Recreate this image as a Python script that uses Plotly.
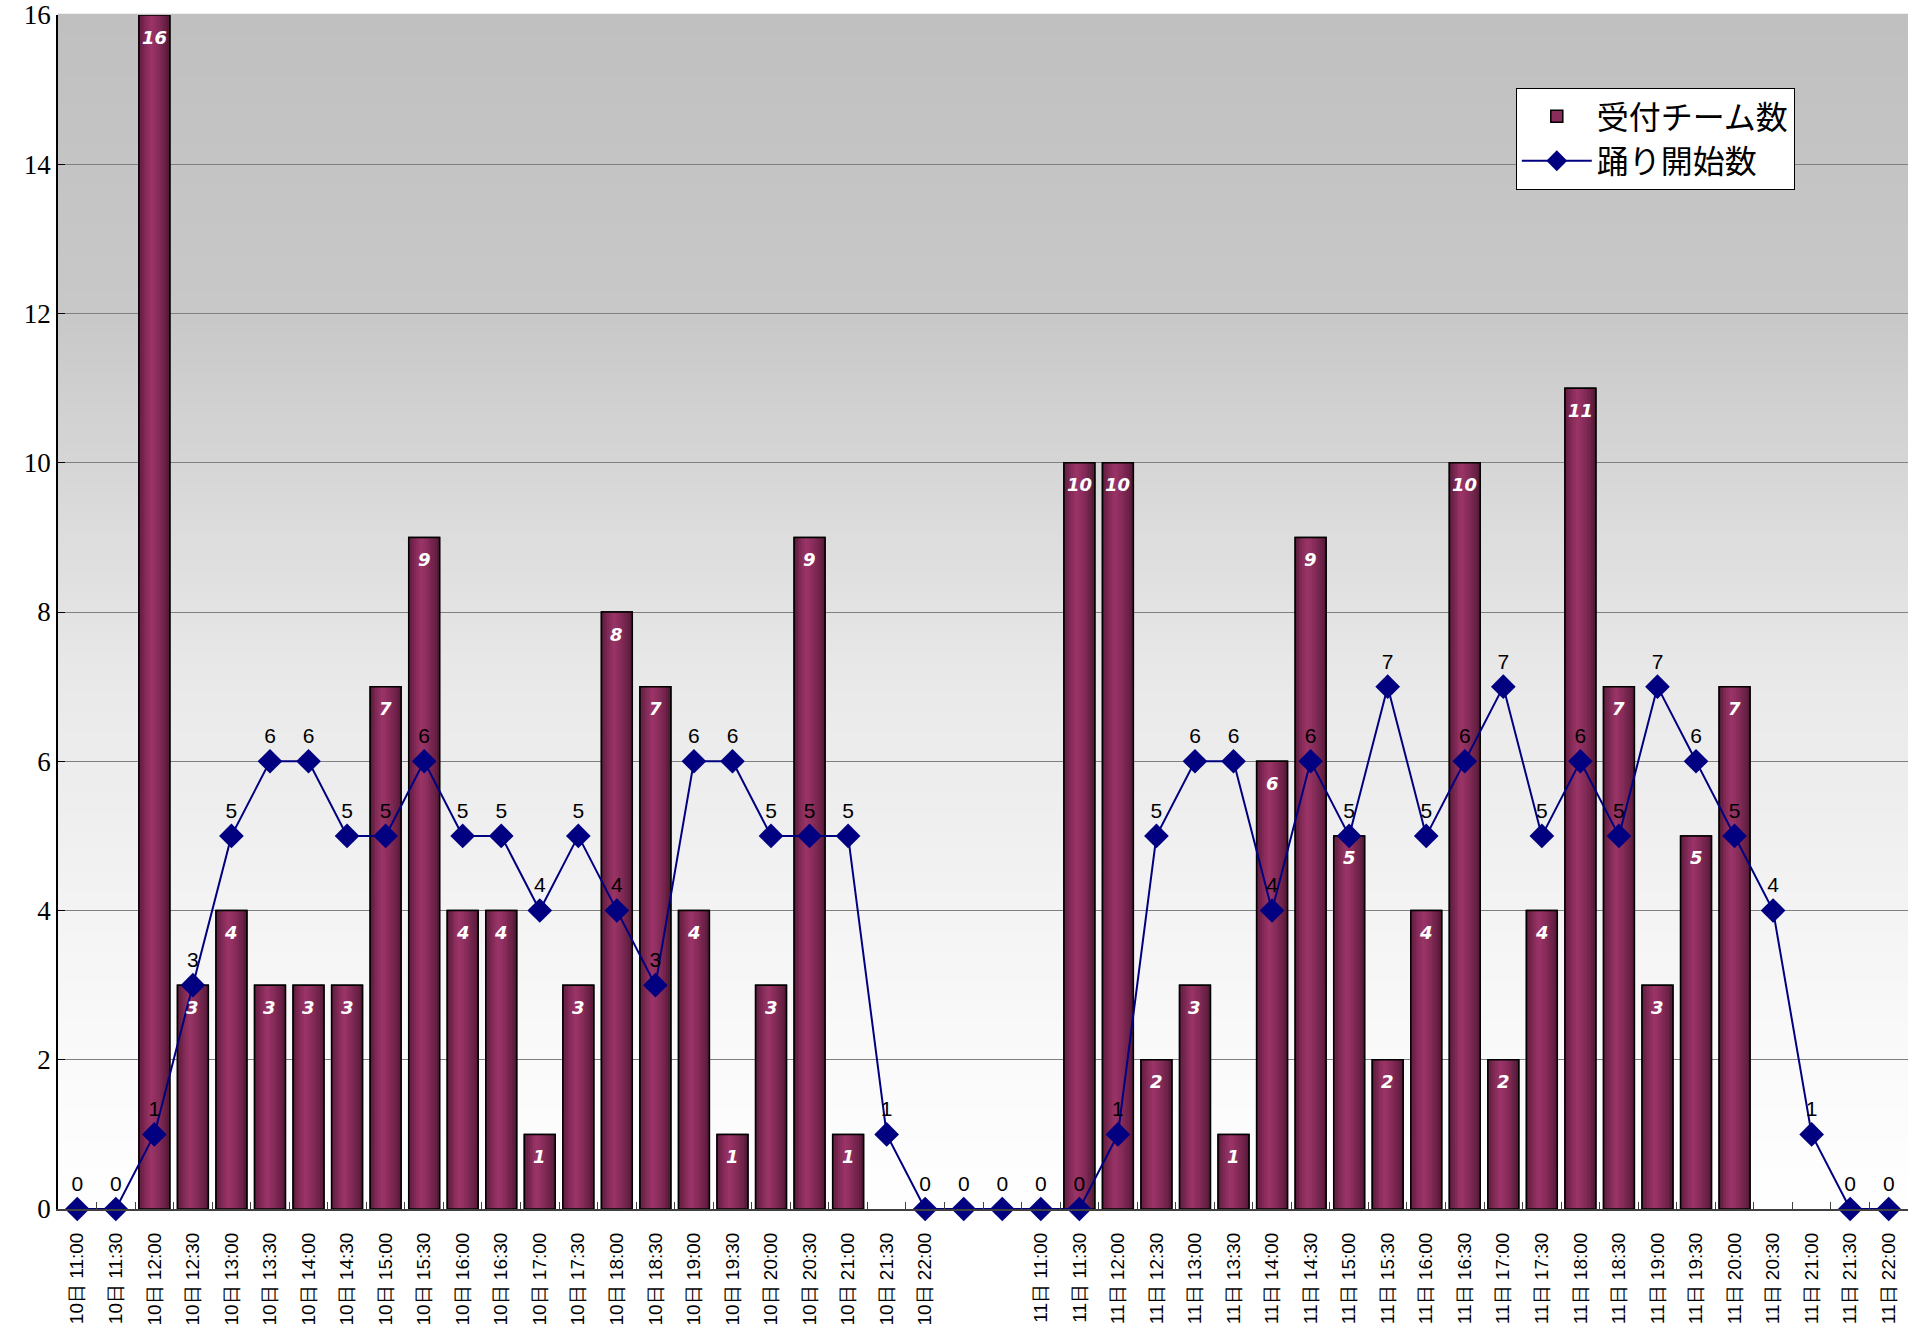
import plotly.graph_objects as go

categories = [
    "10日 11:00", "10日 11:30", "10日 12:00", "10日 12:30", "10日 13:00", "10日 13:30",
    "10日 14:00", "10日 14:30", "10日 15:00", "10日 15:30", "10日 16:00", "10日 16:30",
    "10日 17:00", "10日 17:30", "10日 18:00", "10日 18:30", "10日 19:00", "10日 19:30",
    "10日 20:00", "10日 20:30", "10日 21:00", "10日 21:30", "10日 22:00",
    " ", "  ",
    "11日 11:00", "11日 11:30", "11日 12:00", "11日 12:30", "11日 13:00", "11日 13:30",
    "11日 14:00", "11日 14:30", "11日 15:00", "11日 15:30", "11日 16:00", "11日 16:30",
    "11日 17:00", "11日 17:30", "11日 18:00", "11日 18:30", "11日 19:00", "11日 19:30",
    "11日 20:00", "11日 20:30", "11日 21:00", "11日 21:30", "11日 22:00",
]

# 受付チーム数 (bars)
teams = [
    None, None, 16, 3, 4, 3, 3, 3, 7, 9, 4, 4, 1, 3, 8, 7, 4, 1, 3, 9, 1, None, None,
    None, None,
    None, 10, 10, 2, 3, 1, 6, 9, 5, 2, 4, 10, 2, 4, 11, 7, 3, 5, 7, None, None, None, None,
]

# 踊り開始数 (line)
starts = [
    0, 0, 1, 3, 5, 6, 6, 5, 5, 6, 5, 5, 4, 5, 4, 3, 6, 6, 5, 5, 5, 1, 0,
    0, 0,
    0, 0, 1, 5, 6, 6, 4, 6, 5, 7, 5, 6, 7, 5, 6, 5, 7, 6, 5, 4, 1, 0, 0,
]

BAR_NAME = "受付チーム数"
LINE_NAME = "踊り開始数"

BAR_W = 0.8
N_STRIPES = 16
EDGE = (78, 22, 50)
PEAK = (156, 52, 104)


def stripe_color(t):
    peak_pos = 0.42
    if t <= peak_pos:
        f = t / peak_pos
    else:
        f = (1 - t) / (1 - peak_pos)
    f = f ** 0.7
    r = [int(round(EDGE[k] + (PEAK[k] - EDGE[k]) * f)) for k in range(3)]
    return f"rgb({r[0]},{r[1]},{r[2]})"


fig = go.Figure()

fig.add_trace(go.Bar(
    x=categories, y=teams, name=BAR_NAME, width=BAR_W,
    marker=dict(color="#8a2d5c", line=dict(color="black", width=1.5)),
    hoverinfo="skip",
))

sw = BAR_W / N_STRIPES
for i in range(N_STRIPES):
    t = (i + 0.5) / N_STRIPES
    fig.add_trace(go.Bar(
        x=categories, y=teams, width=sw, offset=-BAR_W / 2 + i * sw,
        marker=dict(color=stripe_color(t), line=dict(width=0)),
        showlegend=False, hoverinfo="skip",
    ))

fig.add_trace(go.Bar(
    x=categories, y=teams, width=BAR_W,
    marker=dict(color="rgba(0,0,0,0)", line=dict(color="black", width=1.5)),
    showlegend=False, hoverinfo="skip",
))

fig.add_trace(go.Scatter(
    x=categories, y=starts, name=LINE_NAME, mode="lines+markers+text",
    line=dict(color="#000080", width=2),
    marker=dict(symbol="diamond", size=19, color="#000080"),
    text=[str(v) for v in starts], textposition="top center",
    textfont=dict(family="Liberation Sans", size=21, color="black"),
    cliponaxis=False,
))

# bar value labels (white, bold italic, just inside the bar top)
for c, v in zip(categories, teams):
    if v:
        fig.add_annotation(
            x=c, y=v, text=str(v), showarrow=False, yshift=-22,
            xanchor="center", yanchor="middle",
            font=dict(family="DejaVu Sans", size=18, color="white", weight="bold", style="italic"),
        )

stops = [(0.0, 255), (0.17, 248), (0.34, 238), (0.43, 234), (0.55, 222), (0.75, 200), (1.0, 192)]


def bg_val(y):
    for (y0, c0), (y1, c1) in zip(stops[:-1], stops[1:]):
        if y0 <= y <= y1:
            return c0 + (c1 - c0) * (y - y0) / (y1 - y0)
    return stops[-1][1]


shapes = []
N_BG = 120
for i in range(N_BG):
    y0 = i / N_BG
    y1 = (i + 1) / N_BG
    c = int(round(bg_val((y0 + y1) / 2)))
    shapes.append(dict(type="rect", xref="paper", yref="paper", x0=0, x1=1, y0=y0, y1=y1 + 0.001,
                       fillcolor=f"rgb({c},{c},{c})", line=dict(width=0), layer="below"))

fig.update_layout(
    width=1908, height=1329,
    margin=dict(l=58, r=0, t=15, b=120),
    paper_bgcolor="white", plot_bgcolor="rgba(0,0,0,0)",
    barmode="overlay",
    shapes=shapes,
    showlegend=True,
    legend=dict(
        x=0.788, y=0.939, xanchor="left", yanchor="top",
        bgcolor="white", bordercolor="black", borderwidth=1,
        font=dict(family="Noto Sans CJK JP", size=32, color="black"),
        traceorder="normal", itemwidth=70,
    ),
    xaxis=dict(
        type="category", range=[-0.5, 47.5], tickson="boundaries",
        ticks="inside", ticklen=7, tickcolor="#404040",
        showline=True, linecolor="#404040", linewidth=2,
        showgrid=False, tickangle=-90, automargin=False,
        tickfont=dict(family="Liberation Sans", size=19, color="black"),
        ticklabelstandoff=14, ticklabeloverflow="allow",
    ),
    yaxis=dict(
        range=[0, 16], tickvals=list(range(0, 17, 2)),
        showgrid=True, gridcolor="#808080", gridwidth=1,
        showline=True, linecolor="black", linewidth=1.5,
        ticks="inside", ticklen=7, tickcolor="black",
        zeroline=False, automargin=False,
        tickfont=dict(family="Liberation Serif", size=27, color="black"),
        ticklabelstandoff=0, ticklabeloverflow="allow",
    ),
)

fig.write_html(
    "out.html",
    config={"displayModeBar": False},
    post_script="document.body.style.margin='0';document.body.style.overflow='hidden';",
)
